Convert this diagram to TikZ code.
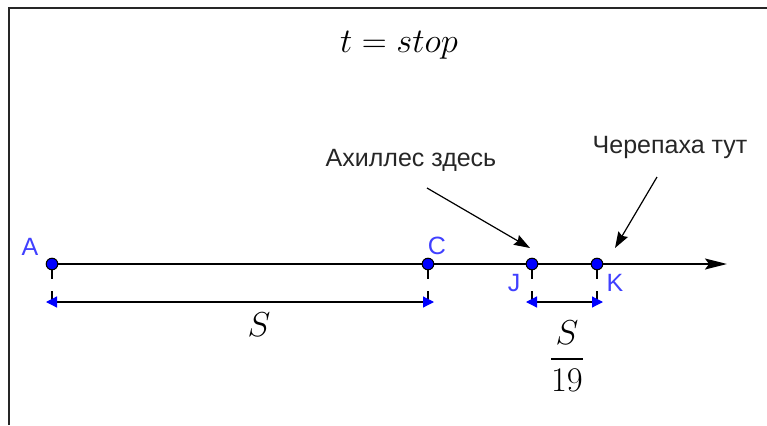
\documentclass[tikz,border=0pt]{standalone}
\usepackage{fontspec}
\usepackage{amsmath}
\usetikzlibrary{arrows.meta, positioning}
\newfontfamily\notefont{Liberation Sans}

\begin{document}
\begin{tikzpicture}[
    x=0.5pt, y=0.5pt,
    axis/.style={-{Stealth[length=11pt, width=5.5pt, inset=2pt]}, line width=0.9pt},
    point/.style={circle, draw, fill=blue, line width=0.5pt, minimum size=5.8pt, inner sep=0pt},
    ptlabel/.style={font=\notefont\fontsize{12.5}{14}\selectfont, text=blue!75, inner sep=0pt},
    note/.style={font=\notefont\fontsize{12.5}{14}\selectfont, text=black!85, inner sep=0pt, anchor=base},
    pointer/.style={-{Stealth[length=8pt, width=5.5pt, inset=1pt]}, line width=0.6pt},
    tick/.style={line width=0.6pt},
    span/.style={{Triangle[color=blue, length=5.5pt, width=5.5pt]}-{Triangle[color=blue, length=5.5pt, width=5.5pt]}, line width=0.6pt, shorten <=-3pt, shorten >=-3pt},
    mathlbl/.style={font=\fontsize{16.5}{19}\selectfont}
]
\useasboundingbox (0,0) rectangle (767,425);

% Frame
\draw[line width=1.25pt, black!85] (9,0) -- (9,417) -- (767,417);

% Title
\node[mathlbl, anchor=base] (title) at (399,373) {$t = stop$};

% Axis
\coordinate (O) at (52,161);
\coordinate (E) at (727,161);
\draw[axis] (O) -- (E);

% Ticks and spans
\coordinate (Aup) at (52,146);  \coordinate (Alow) at (52,134);  \coordinate (Adim) at (52,123);
\coordinate (Cup) at (428,146); \coordinate (Clow) at (428,134); \coordinate (Cdim) at (428,123);
\coordinate (Jup) at (532,146); \coordinate (Jlow) at (532,134); \coordinate (Jdim) at (532,123);
\coordinate (Kup) at (597,146); \coordinate (Klow) at (597,134); \coordinate (Kdim) at (597,123);

\draw[tick] (O) -- (Aup);
\draw[tick] (428,161) -- (Cup);
\draw[tick] (532,161) -- (Jup);
\draw[tick] (597,161) -- (Kup);
\draw[tick] (Alow) -- (Adim);
\draw[tick] (Clow) -- (Cdim);
\draw[tick] (Jlow) -- (Jdim);
\draw[tick] (Klow) -- (Kdim);

\draw[span] (Adim) -- (Cdim);
\draw[span] (Jdim) -- (Kdim);

% Points
\node[point] (A) at (O) {};
\node[point] (C) at (428,161) {};
\node[point] (J) at (532,161) {};
\node[point] (K) at (597,161) {};

\node[ptlabel] (Alabel) at (30,178) {A};
\node[ptlabel] (Clabel) at (437,179) {C};
\node[ptlabel] (Jlabel) at (514,142) {J};
\node[ptlabel] (Klabel) at (615,142) {K};

% Lengths
\node[mathlbl] (dist) at (259,100) {$S$};
\node[mathlbl] (gap) at (567,69) {$\dfrac{S}{19}$};

% Who is where
\node[note] (achilles) at (411,259) {Ахиллес здесь};
\node[note] (tortoise) at (670,272) {Черепаха тут};

\coordinate (achfrom) at (427,237);
\coordinate (achto) at (530,177);
\coordinate (torfrom) at (657,248);
\coordinate (torto) at (615,177);
\draw[pointer] (achfrom) -- (achto);
\draw[pointer] (torfrom) -- (torto);

\end{tikzpicture}
\end{document}
